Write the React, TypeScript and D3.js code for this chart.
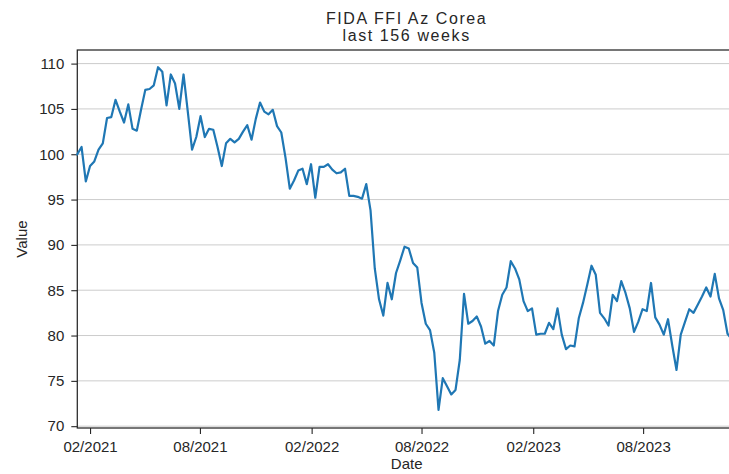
import React, { useRef, useEffect } from "react";
import * as d3 from "d3";

// weekly closing values, first week starting 11 Jan 2021
const firstWeek = new Date(2021, 0, 11);
const values: number[] = [
  100.0, 100.8, 97.0, 98.7, 99.2, 100.5, 101.2, 104.0, 104.1, 106.0,
  104.7, 103.5, 105.5, 102.8, 102.6, 104.9, 107.1, 107.2, 107.6, 109.6,
  109.1, 105.4, 108.8, 107.8, 105.0, 108.8, 104.7, 100.5, 101.9, 104.2,
  101.9, 102.8, 102.7, 100.8, 98.7, 101.2, 101.7, 101.3, 101.7, 102.5,
  103.2, 101.6, 103.9, 105.7, 104.7, 104.4, 104.9, 103.1, 102.4, 99.6,
  96.2, 97.1, 98.2, 98.4, 96.7, 98.9, 95.2, 98.6, 98.6, 98.9,
  98.3, 97.9, 98.0, 98.4, 95.4, 95.4, 95.3, 95.1, 96.7, 93.8,
  87.4, 84.0, 82.2, 85.8, 84.0, 86.9, 88.3, 89.8, 89.6, 88.0,
  87.5, 83.6, 81.3, 80.6, 78.1, 71.8, 75.3, 74.4, 73.5, 74.0,
  77.3, 84.6, 81.3, 81.6, 82.1, 81.0, 79.1, 79.4, 78.9, 82.7,
  84.5, 85.3, 88.2, 87.4, 86.2, 83.8, 82.7, 83.0, 80.1, 80.2,
  80.2, 81.4, 80.7, 83.0, 80.1, 78.5, 78.9, 78.8, 81.9, 83.6,
  85.6, 87.7, 86.7, 82.5, 81.9, 81.1, 84.5, 83.8, 86.0, 84.7,
  83.0, 80.4, 81.5, 82.9, 82.7, 85.8, 82.0, 81.2, 80.1, 81.8,
  78.9, 76.2, 80.1, 81.5, 82.9, 82.5, 83.4, 84.3, 85.3, 84.3,
  86.8, 84.1, 82.8, 80.2, 79.6, 80.1,
];
const yTicks = [70, 75, 80, 85, 90, 95, 100, 105, 110];
const xTicks = [
  new Date(2021, 1, 1), new Date(2021, 7, 1),
  new Date(2022, 1, 1), new Date(2022, 7, 1),
  new Date(2023, 1, 1), new Date(2023, 7, 1),
];
const titleLines = ["FIDA FFI Az Corea", "last 156 weeks"];

const width = 729;
const height = 474;
const margin = { top: 50, right: -7, bottom: 46, left: 77.3 };
const font = "'Liberation Sans', Arial, sans-serif";
const ink = "#262626";

const App = () => {
  const svgRef = useRef<SVGSVGElement>(null);

  useEffect(() => {
    const svg = d3.select(svgRef.current);
    svg.selectAll("*").remove();

    const data = values.map((v, i) => ({ date: d3.timeWeek.offset(firstWeek, i), value: v }));

    const x = d3.scaleTime()
      .domain(d3.extent(data, d => d.date) as [Date, Date])
      .range([margin.left, width - margin.right]);
    const y = d3.scaleLinear()
      .domain([69.8, 111.5])
      .range([height - margin.bottom, margin.top]);

    svg.append("rect")
      .attr("width", width)
      .attr("height", height)
      .attr("fill", "#ffffff");

    // horizontal grid
    svg.append("g")
      .selectAll("line")
      .data(yTicks)
      .enter()
      .append("line")
      .attr("x1", margin.left)
      .attr("x2", width - margin.right)
      .attr("y1", d => y(d))
      .attr("y2", d => y(d))
      .attr("stroke", "#cccccc")
      .attr("stroke-width", 1);

    // axes
    const xAxis = svg.append("g")
      .attr("transform", `translate(0,${height - margin.bottom})`)
      .call(d3.axisBottom(x)
        .tickValues(xTicks)
        .tickFormat(d3.timeFormat("%m/%Y") as any)
        .tickSizeOuter(0)
        .tickSize(6)
        .tickPadding(6));

    const yAxis = svg.append("g")
      .attr("transform", `translate(${margin.left},0)`)
      .call(d3.axisLeft(y)
        .tickValues(yTicks)
        .tickSizeOuter(0)
        .tickSize(6)
        .tickPadding(7));

    [xAxis, yAxis].forEach(g => {
      g.select(".domain").remove();
      g.selectAll(".tick line").attr("stroke", ink).attr("stroke-width", 1.1);
      g.selectAll("text")
        .attr("fill", ink)
        .style("font-family", font)
        .style("font-size", "15px");
    });
    xAxis.selectAll("text").attr("dy", "0.78em");

    // spines
    svg.append("rect")
      .attr("x", margin.left)
      .attr("y", margin.top)
      .attr("width", width - margin.right - margin.left)
      .attr("height", height - margin.bottom - margin.top)
      .attr("fill", "none")
      .attr("stroke", ink)
      .attr("stroke-width", 1.25);

    // series
    const line = d3.line<{ date: Date; value: number }>()
      .x(d => x(d.date))
      .y(d => y(d.value));

    svg.append("path")
      .datum(data)
      .attr("d", line)
      .attr("fill", "none")
      .attr("stroke", "#1f77b4")
      .attr("stroke-width", 2.2)
      .attr("stroke-linejoin", "round")
      .attr("stroke-linecap", "square");

    // title
    svg.append("g")
      .selectAll("text")
      .data(titleLines)
      .enter()
      .append("text")
      .attr("x", (margin.left + width - margin.right) / 2)
      .attr("y", (d, i) => 24 + i * 17)
      .attr("text-anchor", "middle")
      .attr("fill", ink)
      .style("font-family", font)
      .style("font-size", "16px")
      .style("letter-spacing", "1.6px")
      .text(d => d);

    // axis labels
    svg.append("text")
      .attr("x", (margin.left + width - margin.right) / 2)
      .attr("y", 469)
      .attr("text-anchor", "middle")
      .attr("fill", ink)
      .style("font-family", font)
      .style("font-size", "15px")
      .text("Date");

    svg.append("text")
      .attr("transform", `translate(27,${(margin.top + height - margin.bottom) / 2}) rotate(-90)`)
      .attr("text-anchor", "middle")
      .attr("fill", ink)
      .style("font-family", font)
      .style("font-size", "15px")
      .text("Value");
  }, []);

  return (
    <svg
      ref={svgRef}
      width={width}
      height={height}
      style={{ position: "absolute", left: 0, top: 0 }}
    />
  );
};

export default App;
